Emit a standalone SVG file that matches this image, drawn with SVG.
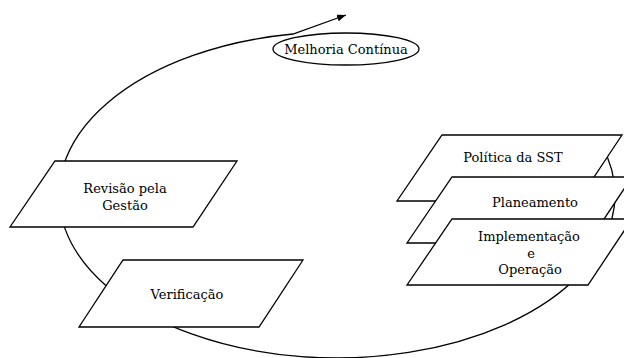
<svg xmlns="http://www.w3.org/2000/svg" width="624" height="358" viewBox="0 0 624 358">
<defs>
<marker id="arrow" markerUnits="userSpaceOnUse" markerWidth="10" markerHeight="8" refX="9" refY="3.5" orient="auto">
<path d="M0,0 L9,3.5 L0,7 z" fill="#000"/>
</marker>
<style>
.shape{fill:#fff;stroke:#000;stroke-width:1.3}
.conn{fill:none;stroke:#000;stroke-width:1.3}
.lbl{font-family:"DejaVu Serif","Liberation Serif",serif;font-size:13px;fill:#000;text-anchor:middle}
</style>
</defs>
<rect width="624" height="358" fill="#fff"/>
<g id="connectors">
<path class="conn" d="M601.6 145 A278 163 0 1 1 293 34 L346 15" marker-end="url(#arrow)"/>
</g>
<g id="melhoria">
<ellipse class="shape" cx="346" cy="49" rx="73" ry="16" style="fill:none"/>
<text class="lbl" x="346" y="54">Melhoria Contínua</text>
</g>
<g id="revisao">
<polygon class="shape" points="55,161 237,161 193,227 10,227"/>
<text class="lbl" x="125" y="193">Revisão pela</text>
<text class="lbl" x="125" y="210">Gestão</text>
</g>
<g id="verificacao">
<polygon class="shape" points="123,260 303,260 259,327 79,327"/>
<text class="lbl" x="187" y="299">Verificação</text>
</g>
<g id="politica">
<polygon class="shape" points="442,135 622,135 578,201 397,201"/>
<text class="lbl" x="513" y="162">Política da SST</text>
</g>
<g id="planeamento">
<polygon class="shape" points="452,177 632,177 588,243 407,243"/>
<text class="lbl" x="535" y="207">Planeamento</text>
</g>
<g id="implementacao">
<polygon class="shape" points="452,219 632,219 588,285 407,285"/>
<text class="lbl" x="529" y="241">Implementação</text>
<text class="lbl" x="531" y="258">e</text>
<text class="lbl" x="530" y="274">Operação</text>
</g>
</svg>
